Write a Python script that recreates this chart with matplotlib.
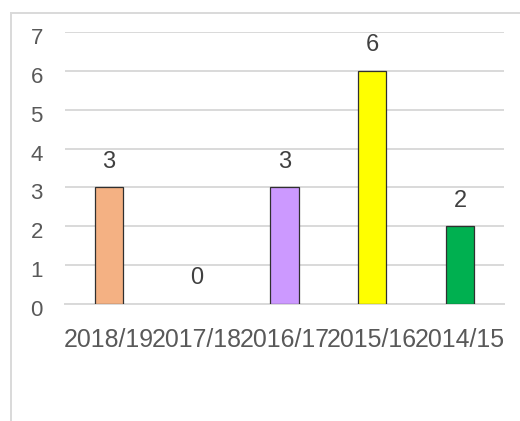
import matplotlib
matplotlib.use("Agg")
import matplotlib.pyplot as plt
from matplotlib.patches import Rectangle
import matplotlib.transforms as mtransforms

categories = ["2018/19", "2017/18", "2016/17", "2015/16", "2014/15"]
values = [3, 0, 3, 6, 2]
colors = ["#F4B183", "#FFFFFF", "#CC99FF", "#FFFF00", "#00B050"]
yticks = [0, 1, 2, 3, 4, 5, 6, 7]

plt.rcParams['font.family'] = ['Liberation Sans', 'DejaVu Sans']
txt = "#595959"
grid = "#D9D9D9"

fig = plt.figure(figsize=(5.2, 4.21), dpi=100)
ax = fig.add_axes([65/520, 1-304/421, (504-65)/520, (304-32)/421])

x = list(range(len(categories)))
for xi, v, c in zip(x, values, colors):
    if v > 0:
        ax.bar(xi, v, width=0.32, color=c, edgecolor="#303030", linewidth=0.9, zorder=3)
    ax.annotate(str(v), (xi, v), xytext=(0, 10.5), textcoords="offset points",
                ha="center", va="bottom", fontsize=17, color="#404040")

ax.set_xlim(-0.5, len(categories) - 0.5)
ax.set_ylim(0, 7)
ax.set_yticks(yticks)
ax.set_yticklabels([str(t) for t in yticks], fontsize=16, color=txt)
ax.set_xticks(x)
ax.set_xticklabels(categories, fontsize=17.9, color=txt)
ax.tick_params(axis="y", length=0, pad=16)
ax.tick_params(axis="x", length=0, pad=17)
for lab in ax.get_yticklabels():
    lab.set_transform(lab.get_transform() + mtransforms.ScaledTranslation(0, -4/100, fig.dpi_scale_trans))
ax.grid(axis="y", color=grid, linewidth=1.4, zorder=0)
ax.set_axisbelow(True)
for s in ["top", "right", "left"]:
    ax.spines[s].set_visible(False)
ax.spines["bottom"].set_color(grid)
ax.spines["bottom"].set_linewidth(1.4)

fig.patches.append(Rectangle((11/520, -0.1), 1.2, 1.1 - 13/421, transform=fig.transFigure,
                             fill=False, edgecolor=grid, linewidth=1.4))

fig.savefig("out.png", dpi=100)
